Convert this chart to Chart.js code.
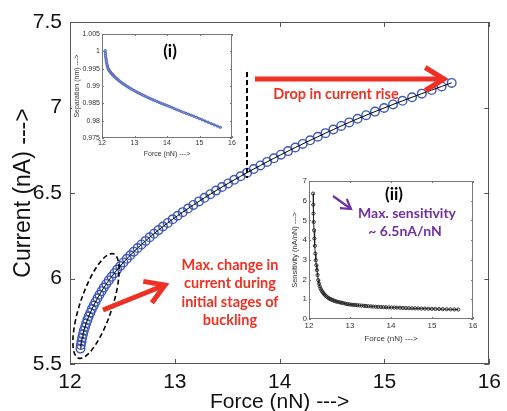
<!DOCTYPE html>
<html><head><meta charset="utf-8">
<script src="https://cdn.jsdelivr.net/npm/chart.js@4.4.1/dist/chart.umd.min.js"></script>
<style>
html,body{margin:0;padding:0;background:#fff;}
#wrap{position:relative;width:507px;height:411px;overflow:hidden;background:#fff;}
canvas{position:absolute;}
#main{left:0;top:0;}
#inset1{left:72px;top:23px;background:#fff;}
#inset2{left:282px;top:172px;background:#fff;}
</style></head><body>
<div id="wrap">
<canvas id="main" width="507" height="411"></canvas>
<canvas id="inset1" width="168" height="135"></canvas>
<canvas id="inset2" width="200" height="172"></canvas>
</div>
<script>
// ---------- data ----------
const forceVals = [
12.100, 12.104, 12.110, 12.116, 12.124, 12.132, 12.144, 12.154, 12.166, 12.179,
12.194, 12.209, 12.226, 12.243, 12.262, 12.281, 12.302, 12.323, 12.346, 12.370,
12.396, 12.423, 12.450, 12.480, 12.510, 12.542, 12.575, 12.609, 12.645, 12.682,
12.721, 12.760, 12.801, 12.844, 12.887, 12.932, 12.979, 13.026, 13.075, 13.126,
13.177, 13.230, 13.283, 13.338, 13.393, 13.450, 13.508, 13.567, 13.628, 13.690,
13.752, 13.816, 13.880, 13.945, 14.012, 14.080, 14.149, 14.220, 14.291, 14.364,
14.437, 14.512, 14.587, 14.664, 14.743, 14.825, 14.909, 14.996, 15.082, 15.172,
15.263, 15.356, 15.450, 15.545, 15.641];
const currentVals = [
5.590, 5.611, 5.632, 5.653, 5.674, 5.695, 5.716, 5.737, 5.758, 5.779,
5.800, 5.821, 5.842, 5.863, 5.884, 5.905, 5.926, 5.947, 5.968, 5.989,
6.010, 6.031, 6.052, 6.073, 6.094, 6.115, 6.136, 6.157, 6.178, 6.199,
6.220, 6.241, 6.262, 6.283, 6.304, 6.325, 6.346, 6.367, 6.388, 6.409,
6.430, 6.451, 6.472, 6.493, 6.514, 6.535, 6.556, 6.577, 6.598, 6.619,
6.640, 6.661, 6.682, 6.703, 6.724, 6.745, 6.766, 6.787, 6.808, 6.829,
6.850, 6.871, 6.892, 6.913, 6.934, 6.955, 6.976, 6.997, 7.018, 7.039,
7.060, 7.081, 7.102, 7.123, 7.144];
const separationVals = [
1.0002, 0.9994, 0.9988, 0.9983, 0.9978, 0.9973, 0.9967, 0.9962, 0.9957, 0.9953,
0.9949, 0.99461, 0.99439, 0.99418, 0.99395, 0.99374, 0.99351, 0.9933, 0.99307, 0.99284,
0.9926, 0.99236, 0.99213, 0.99189, 0.99165, 0.9914, 0.99116, 0.99091, 0.99067, 0.99044,
0.99019, 0.98996, 0.98971, 0.98947, 0.98923, 0.98898, 0.98873, 0.98849, 0.98824, 0.98799,
0.98775, 0.9875, 0.98726, 0.98701, 0.98677, 0.98652, 0.98627, 0.98603, 0.98578, 0.98553,
0.98529, 0.98504, 0.9848, 0.98456, 0.98432, 0.98406, 0.98378, 0.9835, 0.98322, 0.98295,
0.98267, 0.98239, 0.98212, 0.98185, 0.98157, 0.98128, 0.98096, 0.9806, 0.98025, 0.97989,
0.97953, 0.97917, 0.9788, 0.97844, 0.97808];
const sensitivityVals = [
6.36, 5.80, 5.35, 4.92, 4.50, 4.08, 3.71, 3.32, 2.98, 2.73,
2.48, 2.23, 1.97, 1.80, 1.66, 1.55, 1.46, 1.39, 1.32, 1.26,
1.20, 1.15, 1.10, 1.06, 1.02, 0.99, 0.96, 0.93, 0.90, 0.88,
0.86, 0.84, 0.82, 0.80, 0.78, 0.76, 0.74, 0.73, 0.72, 0.71,
0.70, 0.69, 0.68, 0.67, 0.66, 0.65, 0.64, 0.63, 0.62, 0.615,
0.61, 0.60, 0.595, 0.59, 0.585, 0.58, 0.575, 0.57, 0.56, 0.555,
0.55, 0.545, 0.54, 0.535, 0.53, 0.525, 0.52, 0.515, 0.51, 0.505,
0.50, 0.495, 0.49, 0.485, 0.48];
const mainXTicks = [12, 13, 14, 15, 16];
const mainYTicks = [5.5, 6, 6.5, 7, 7.5];

// ---------- helpers ----------
const pts = (xs, ys) => xs.map((x, i) => ({x, y: ys[i]}));
const SANS = '"Liberation Sans", Arial, sans-serif';
const NOTE = 'Lato, "Open Sans", sans-serif';
const noGrid = {display: false, drawTicks: false, tickLength: 0};

const boxTicks = {
  id: 'boxTicks',
  afterDatasetsDraw(chart, args, o) {
    const {ctx, chartArea: a, scales: {x, y}} = chart;
    ctx.save();
    ctx.strokeStyle = o.color || '#555';
    ctx.lineWidth = 1;
    ctx.strokeRect(Math.round(a.left) + 0.5, Math.round(a.top) + 0.5,
                   Math.round(a.right - a.left) - 1, Math.round(a.bottom - a.top) - 1);
    const L = o.len || 5;
    ctx.beginPath();
    x.ticks.forEach(t => {
      const p = Math.round(x.getPixelForValue(t.value)) + 0.5;
      ctx.moveTo(p, a.bottom); ctx.lineTo(p, a.bottom - L);
      ctx.moveTo(p, a.top); ctx.lineTo(p, a.top + L);
    });
    y.ticks.forEach(t => {
      const p = Math.round(y.getPixelForValue(t.value)) + 0.5;
      ctx.moveTo(a.left, p); ctx.lineTo(a.left + L, p);
      ctx.moveTo(a.right, p); ctx.lineTo(a.right - L, p);
    });
    ctx.stroke();
    ctx.restore();
  }
};

function arrow(ctx, x1, y1, x2, y2, head, color, w) {
  ctx.save();
  ctx.strokeStyle = color; ctx.lineWidth = w; ctx.lineCap = 'butt'; ctx.lineJoin = 'miter';
  ctx.beginPath(); ctx.moveTo(x1, y1); ctx.lineTo(x2, y2); ctx.stroke();
  const ang = Math.atan2(y2 - y1, x2 - x1);
  ctx.beginPath();
  ctx.moveTo(x2 - head * Math.cos(ang - 0.55), y2 - head * Math.sin(ang - 0.55));
  ctx.lineTo(x2, y2);
  ctx.lineTo(x2 - head * Math.cos(ang + 0.55), y2 - head * Math.sin(ang + 0.55));
  ctx.stroke();
  ctx.restore();
}

const mainNotes = {
  id: 'mainNotes',
  afterDraw(chart) {
    const ctx = chart.ctx;
    const red = '#ee3124';
    ctx.save();
    ctx.strokeStyle = '#000'; ctx.lineWidth = 2; ctx.setLineDash([5, 3]);
    ctx.beginPath(); ctx.moveTo(247, 72); ctx.lineTo(247, 178); ctx.stroke();
    ctx.lineWidth = 1.6; ctx.setLineDash([5, 3]);
    ctx.beginPath(); ctx.ellipse(96, 306, 16, 55, 18.5 * Math.PI / 180, 0, 2 * Math.PI); ctx.stroke();
    ctx.setLineDash([]);
    ctx.restore();
    arrow(ctx, 255, 79, 444, 79, 22, red, 5);
    arrow(ctx, 103, 310, 165, 285, 22, red, 5);
    ctx.save();
    ctx.fillStyle = red;
    ctx.font = 'bold 14.5px ' + NOTE;
    ctx.textAlign = 'center'; ctx.textBaseline = 'middle';
    ctx.fillText('Drop in current rise', 336, 94);
    const lines = ['Max. change in', 'current during', 'initial stages of', 'buckling'];
    lines.forEach((t, i) => ctx.fillText(t, 230, 265 + i * 18.5));
    ctx.restore();
  }
};

Chart.defaults.animation = false;

new Chart(document.getElementById('main'), {
  type: 'scatter',
  data: {
    datasets: [
      {data: pts(forceVals, currentVals), showLine: true, borderColor: '#000', borderWidth: 1,
       pointRadius: 0, fill: false},
      {data: pts(forceVals, currentVals), showLine: false, pointRadius: 4.3,
       pointBorderColor: '#3c58b8', pointBackgroundColor: 'rgba(0,0,0,0)', pointBorderWidth: 1.4}
    ]
  },
  options: {
    responsive: false, devicePixelRatio: 1,
    layout: {padding: {left: 0, right: 12, top: 22, bottom: 0}},
    plugins: {legend: {display: false}, tooltip: {enabled: false}, boxTicks: {color: '#555', len: 5}},
    scales: {
      x: {
        type: 'linear', min: 12, max: 16,
        afterBuildTicks: s => { s.ticks = mainXTicks.map(v => ({value: v})); },
        ticks: {font: {family: SANS, size: 21}, color: '#111', padding: 6, maxRotation: 0,
                callback: v => String(v)},
        grid: noGrid, border: {display: false},
        title: {display: true, text: 'Force (nN) --->', font: {family: SANS, size: 21}, color: '#111',
                padding: {top: 0, bottom: -4}},
        afterFit: s => { s.height = 47; }
      },
      y: {
        type: 'linear', min: 5.5, max: 7.5,
        afterBuildTicks: s => { s.ticks = mainYTicks.map(v => ({value: v})); },
        ticks: {font: {family: SANS, size: 21}, color: '#111', padding: 8, callback: v => String(v)},
        grid: noGrid, border: {display: false},
        title: {display: true, text: 'Current (nA) --->', font: {family: SANS, size: 23}, color: '#111',
                padding: {top: 10, bottom: 0}},
        afterFit: s => { s.width = 70; }
      }
    }
  },
  plugins: [boxTicks, mainNotes]
});

// ---------- inset (i) ----------
const inset1Notes = {
  id: 'inset1Notes',
  afterDraw(chart) {
    const ctx = chart.ctx;
    ctx.save();
    ctx.fillStyle = '#000'; ctx.font = 'bold 17px ' + NOTE;
    ctx.textAlign = 'center'; ctx.textBaseline = 'middle';
    ctx.fillText('(i)', 98, 29);
    ctx.restore();
  }
};
new Chart(document.getElementById('inset1'), {
  type: 'scatter',
  data: {datasets: [{data: pts(forceVals, separationVals), showLine: true, borderColor: '#4a63b8',
    borderWidth: 1.6, pointRadius: 1.2, pointBorderColor: '#4a63b8', pointBackgroundColor: '#8a9ad6',
    pointBorderWidth: 0.8}]},
  options: {
    responsive: false, devicePixelRatio: 1,
    layout: {padding: {left: 0, right: 8, top: 11, bottom: 0}},
    plugins: {legend: {display: false}, tooltip: {enabled: false}, boxTicks: {color: '#777', len: 2}},
    scales: {
      x: {type: 'linear', min: 12, max: 16,
        ticks: {stepSize: 1, font: {family: SANS, size: 7}, color: '#333', padding: 1, maxRotation: 0},
        grid: noGrid, border: {display: false},
        title: {display: true, text: 'Force (nN) --->', font: {family: SANS, size: 7}, color: '#333',
                padding: {top: 0, bottom: 0}},
        afterFit: s => { s.height = 20; }},
      y: {type: 'linear', min: 0.975, max: 1.005,
        ticks: {stepSize: 0.005, font: {family: SANS, size: 7}, color: '#333', padding: 2,
                callback: v => String(+v.toFixed(3))},
        grid: noGrid, border: {display: false},
        title: {display: true, text: 'Separation (nm) --->', font: {family: SANS, size: 7}, color: '#333',
                padding: {top: 1, bottom: 0}},
        afterFit: s => { s.width = 30; }}
    }
  },
  plugins: [boxTicks, inset1Notes]
});

// ---------- inset (ii) ----------
const inset2Notes = {
  id: 'inset2Notes',
  afterDraw(chart) {
    const ctx = chart.ctx;
    ctx.save();
    ctx.fillStyle = '#000'; ctx.font = 'bold 17px ' + NOTE;
    ctx.textAlign = 'center'; ctx.textBaseline = 'middle';
    ctx.fillText('(ii)', 112, 23);
    const purple = '#7030a0';
    ctx.fillStyle = purple; ctx.font = 'bold 14px ' + NOTE;
    ctx.fillText('Max. sensitivity', 125, 41);
    ctx.fillText('~ 6.5nA/nN', 123, 59);
    ctx.restore();
    arrow(ctx, 51, 24, 69, 37, 11, purple, 2.2);
  }
};
new Chart(document.getElementById('inset2'), {
  type: 'scatter',
  data: {datasets: [{data: pts(forceVals, sensitivityVals), showLine: true, borderColor: '#222',
    borderWidth: 1, pointRadius: 1.6, pointBorderColor: '#222', pointBackgroundColor: 'rgba(0,0,0,0)',
    pointBorderWidth: 0.9}]},
  options: {
    responsive: false, devicePixelRatio: 1,
    layout: {padding: {left: 0, right: 9, top: 9, bottom: 0}},
    plugins: {legend: {display: false}, tooltip: {enabled: false}, boxTicks: {color: '#777', len: 2}},
    scales: {
      x: {type: 'linear', min: 12, max: 16,
        ticks: {stepSize: 1, font: {family: SANS, size: 8}, color: '#333', padding: 2, maxRotation: 0},
        grid: noGrid, border: {display: false},
        title: {display: true, text: 'Force (nN) --->', font: {family: SANS, size: 8}, color: '#333',
                padding: {top: 1, bottom: 0}},
        afterFit: s => { s.height = 25; }},
      y: {type: 'linear', min: 0, max: 7,
        ticks: {stepSize: 1, font: {family: SANS, size: 8}, color: '#333', padding: 2},
        grid: noGrid, border: {display: false},
        title: {display: true, text: 'Sensitivity (nA/nN) --->', font: {family: SANS, size: 7.5}, color: '#333',
                padding: {top: 8, bottom: 0}},
        afterFit: s => { s.width = 27; }}
    }
  },
  plugins: [boxTicks, inset2Notes]
});
</script>
</body></html>
